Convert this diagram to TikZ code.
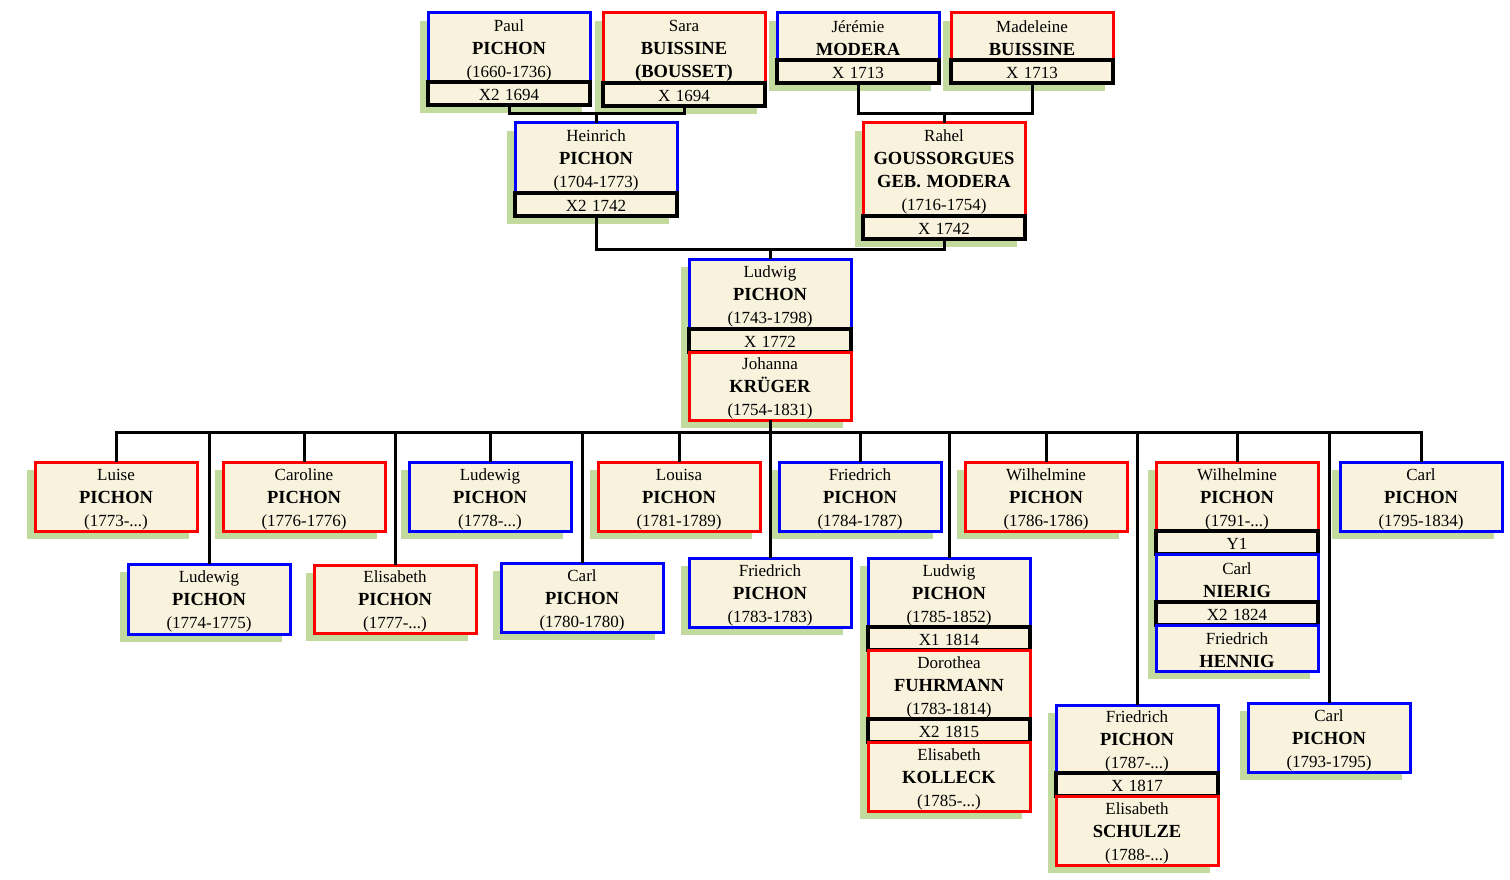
\documentclass[tikz,border=0pt]{standalone}
\usepackage{fontspec}
\setmainfont{Liberation Serif}
\usepackage{xcolor}
\usepackage{tikz}
\usetikzlibrary{positioning}
\usetikzlibrary{shadows}

\newcommand{\famname}[1]{{\fontsize{18.5}{23}\selectfont\bfseries #1}}

\begin{document}
\begin{tikzpicture}[
    x=1pt,
    y=-1pt,
    line join=miter
]

% =========================================================
% Colors
% =========================================================
\definecolor{cardfill}{RGB}{249,243,221}
\definecolor{shadowgreen}{RGB}{195,218,158}
\definecolor{manblue}{RGB}{0,0,255}
\definecolor{womanred}{RGB}{255,0,0}

% =========================================================
% Styles
% =========================================================
\tikzset{
    card/.style={draw,line width=3pt,fill=cardfill,minimum width=162pt,
        text width=158pt,align=center,inner sep=0pt,outer sep=0pt,
        text height=17.5pt,
        font=\fontsize{17}{23}\selectfont,anchor=north,
        drop shadow={shadow xshift=-8pt,shadow yshift=-8pt,
            fill=shadowgreen,opacity=1}},
    male/.style={card,draw=manblue,minimum height=69pt},
    female/.style={card,draw=womanred,minimum height=69pt},
    wedding/.style={card,draw=black,line width=3.5pt,minimum height=23pt,
        text height=14.5pt},
    link/.style={black,line width=3pt}
}

\useasboundingbox (0,0) rectangle (1510,880);

% =========================================================
% Great-grandparents
% =========================================================
\node[male] (paul) at (509,13) {Paul\\\famname{PICHON}\\(1660-1736)};
\node[wedding,below=0pt of paul] (paulX) {X2 1694};

\node[female,minimum height=70pt] (sara) at (684,13)
    {Sara\\\famname{BUISSINE}\\\famname{(BOUSSET)}};
\node[wedding,below=0pt of sara] (saraX) {X 1694};

\node[male,minimum height=47pt,text height=15.5pt] (jeremie) at (858,13)
    {Jérémie\\\famname{MODERA}};
\node[wedding,below=0pt of jeremie] (jeremieX) {X 1713};

\node[female,minimum height=47pt,text height=15.5pt] (madeleine) at (1032,13)
    {Madeleine\\\famname{BUISSINE}};
\node[wedding,below=0pt of madeleine] (madeleineX) {X 1713};

% =========================================================
% Grandparents
% =========================================================
\node[male,minimum height=70pt] (heinrich) at (596,123)
    {Heinrich\\\famname{PICHON}\\(1704-1773)};
\node[wedding,below=0pt of heinrich] (heinrichX) {X2 1742};

\node[female,minimum height=93pt] (rahel) at (944,123)
    {Rahel\\\famname{GOUSSORGUES}\\\famname{GEB. MODERA}\\(1716-1754)};
\node[wedding,below=0pt of rahel] (rahelX) {X 1742};

% =========================================================
% Parents
% =========================================================
\node[male,minimum height=70pt] (ludwig) at (770,259)
    {Ludwig\\\famname{PICHON}\\(1743-1798)};
\node[wedding,below=0pt of ludwig] (ludwigX) {X 1772};
\node[female,minimum height=68pt,below=0pt of ludwigX] (johanna)
    {Johanna\\\famname{KRÜGER}\\(1754-1831)};

% =========================================================
% Children, first row
% =========================================================
\node[female] (luise) at (116,462) {Luise\\\famname{PICHON}\\(1773-...)};
\node[female] (caroline) at (304,462) {Caroline\\\famname{PICHON}\\(1776-1776)};
\node[male] (ludewigB) at (490,462) {Ludewig\\\famname{PICHON}\\(1778-...)};
\node[female] (louisa) at (679,462) {Louisa\\\famname{PICHON}\\(1781-1789)};
\node[male] (friedrichB) at (860,462) {Friedrich\\\famname{PICHON}\\(1784-1787)};
\node[female] (wilhelmineA) at (1046,462) {Wilhelmine\\\famname{PICHON}\\(1786-1786)};

\node[female] (wilhelmineB) at (1237,462) {Wilhelmine\\\famname{PICHON}\\(1791-...)};
\node[wedding,below=0pt of wilhelmineB] (wilhelmineY) {Y1};
\node[male,minimum height=48pt,text height=16pt,below=0pt of wilhelmineY] (nierig)
    {Carl\\\famname{NIERIG}};
\node[wedding,below=0pt of nierig] (nierigX) {X2 1824};
\node[male,minimum height=46pt,text height=16pt,below=0pt of nierigX] (hennig)
    {Friedrich\\\famname{HENNIG}};

\node[male] (carlC) at (1421,462) {Carl\\\famname{PICHON}\\(1795-1834)};

% =========================================================
% Children, second row
% =========================================================
\node[male,minimum height=70pt] (ludewigA) at (209,564) {Ludewig\\\famname{PICHON}\\(1774-1775)};
\node[female,minimum height=68pt] (elisabeth) at (395,565) {Elisabeth\\\famname{PICHON}\\(1777-...)};
\node[male] (carlA) at (582,563) {Carl\\\famname{PICHON}\\(1780-1780)};
\node[male] (friedrichA) at (770,558) {Friedrich\\\famname{PICHON}\\(1783-1783)};

\node[male] (ludwigC) at (949,558) {Ludwig\\\famname{PICHON}\\(1785-1852)};
\node[wedding,below=0pt of ludwigC] (ludwigCX) {X1 1814};
\node[female,below=0pt of ludwigCX] (dorothea)
    {Dorothea\\\famname{FUHRMANN}\\(1783-1814)};
\node[wedding,below=0pt of dorothea] (dorotheaX) {X2 1815};
\node[female,below=0pt of dorotheaX] (kolleck)
    {Elisabeth\\\famname{KOLLECK}\\(1785-...)};

\node[male,minimum height=68pt] (friedrichC) at (1137,705) {Friedrich\\\famname{PICHON}\\(1787-...)};
\node[wedding,below=0pt of friedrichC] (friedrichCX) {X 1817};
\node[female,below=0pt of friedrichCX] (schulze)
    {Elisabeth\\\famname{SCHULZE}\\(1788-...)};

\node[male] (carlB) at (1329,703) {Carl\\\famname{PICHON}\\(1793-1795)};

% =========================================================
% Lines of descent
% =========================================================
\coordinate (busA) at (596,114);
\coordinate (busB) at (944,114);
\coordinate (busC) at (770,249);
\coordinate (kids) at (770,432);

\draw[link] (paulX.south) |- (busA) -| (saraX.south);
\draw[link] (busA) -- (heinrich.north);
\draw[link] (jeremieX.south) |- (busB) -| (madeleineX.south);
\draw[link] (busB) -- (rahel.north);
\draw[link] (heinrichX.south) |- (busC) -| (rahelX.south);
\draw[link] (busC) -- (ludwig.north);
\draw[link] (johanna.south) -- (kids);

\foreach \child in {luise,ludewigA,caroline,elisabeth,ludewigB,carlA,louisa,
    friedrichA,friedrichB,ludwigC,wilhelmineA,friedrichC,wilhelmineB,carlB,carlC}
    \draw[link] (kids) -| (\child.north);

\end{tikzpicture}
\end{document}
